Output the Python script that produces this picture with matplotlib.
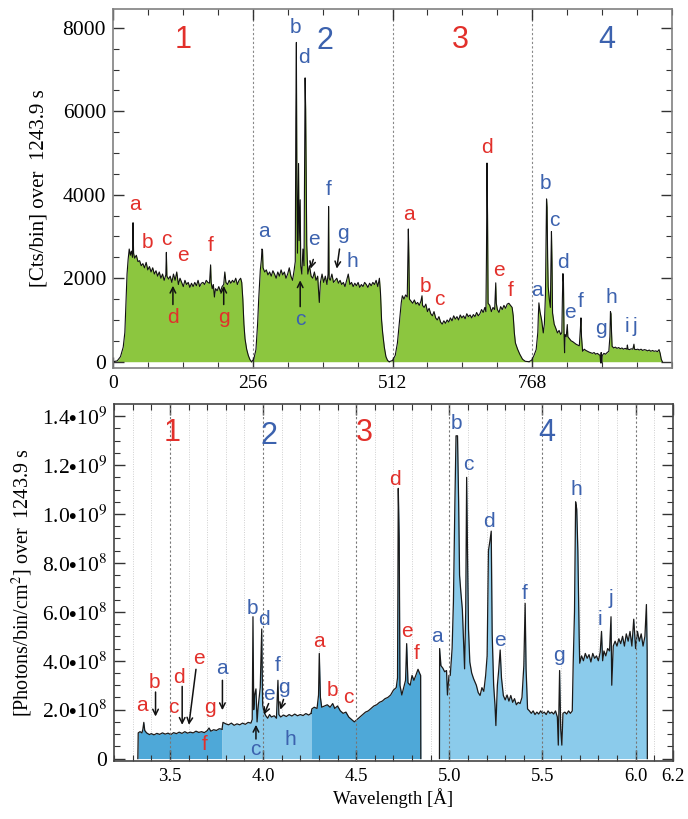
import numpy as np
import matplotlib
matplotlib.use("Agg")
import matplotlib.pyplot as plt

plt.rcParams['mathtext.fontset'] = 'stix'
SERIF = 'Liberation Serif'
SANS = 'Liberation Sans'
RED = '#e2302b'
BLUE = '#3c62ae'
GREEN = '#8cc63f'
DARKBLUE = '#4ea8d8'
LIGHTBLUE = '#8bcbeb'

# ---- top panel: raw counts per bin, four crystals ----
c1_bin = [0, 8, 14, 19, 22, 24, 26, 28, 30, 32, 34, 36, 37, 38, 40, 43, 46, 49, 52, 55, 58, 61, 64, 67, 70, 73,
          76, 79, 82, 85, 88, 91, 94, 97, 98, 99, 102, 105, 108, 111, 114, 117, 120, 123, 126, 129, 132, 135,
          138, 141, 144, 147, 150, 153, 156, 159, 162, 165, 168, 171, 174, 177, 179, 180, 182, 184, 186, 188,
          191, 194, 197, 200, 203, 205, 207, 210, 213, 216, 219, 222, 225, 228, 231, 234, 236, 238, 240, 242,
          245, 248, 251, 254]
c1_cts = [0, 20, 120, 350, 700, 1400, 2100, 2450, 2700, 2550, 2650, 2500, 3330, 2600, 2480, 2550, 2400, 2420,
          2300, 2350, 2250, 2380, 2200, 2280, 2150, 2250, 2100, 2180, 2050, 2150, 2000, 2100, 1950, 2080, 2620,
          2050, 1980, 2050, 1900, 2100, 1950, 2150, 1850, 2000, 1900, 1800, 1950, 1850, 1900, 1780, 1880, 1800,
          1900, 1820, 1950, 1800, 1880, 1900, 1850, 1950, 1900, 1880, 2320, 1900, 1750, 1850, 1550, 1750, 1700,
          1800, 1680, 1800, 1850, 2150, 1900, 1850, 1950, 1880, 1950, 1900, 2000, 1850, 1950, 2000, 1900, 1500,
          900, 550, 300, 150, 50, 0]

c2_bin = [254, 258, 262, 265, 267, 270, 272, 273, 274, 275, 278, 281, 284, 287, 290, 293, 296, 299, 302, 305,
          308, 311, 314, 317, 320, 323, 326, 329, 332, 334, 335, 336, 337, 338, 340, 341, 343, 344, 346, 348,
          350, 352, 353, 354, 355, 357, 360, 363, 366, 369, 372, 375, 378, 380, 383, 386, 389, 392, 394, 395,
          396, 398, 401, 404, 407, 410, 413, 416, 419, 422, 425, 428, 431, 434, 437, 440, 443, 446, 449, 452,
          455, 458, 461, 464, 467, 470, 473, 476, 479, 482, 485, 488, 490, 492, 494, 497, 500, 503, 506]
c2_cts = [0, 60, 290, 900, 1490, 2200, 2450, 2700, 2680, 2250, 2150, 2200, 2080, 2150, 2050, 2180, 2100, 2000,
          2150, 2050, 2200, 2080, 2150, 2000, 2100, 2250, 2050, 1950, 2200, 2400, 5800, 7650, 4200, 2600, 4750,
          2900, 3880, 2300, 2100, 2700, 2300, 6800, 6050, 4500, 2800, 2100, 2300, 2050, 2000, 2150, 1950, 2050,
          1420, 1900, 2100, 1900, 2050, 1850, 2100, 3720, 2000, 1950, 2100, 1900, 1950, 2000, 1880, 1950, 1850,
          1900, 1800, 1950, 2100, 1850, 1900, 1800, 1880, 1820, 1900, 1780, 1850, 1800, 1900, 1850, 1780, 1880,
          1820, 1900, 1850, 1950, 1800, 2000, 1650, 1000, 690, 350, 120, 30, 0]

c3_bin = [506, 512, 517, 521, 525, 528, 530, 533, 536, 539, 541, 542, 543, 546, 549, 552, 555, 558, 561, 564,
          566, 567, 570, 573, 576, 579, 582, 585, 588, 591, 594, 597, 600, 603, 606, 609, 612, 615, 618, 621,
          624, 627, 630, 633, 636, 639, 642, 645, 648, 651, 654, 657, 660, 663, 666, 669, 672, 675, 678, 681,
          683, 684, 685, 686, 687, 690, 693, 696, 699, 701, 702, 704, 707, 710, 713, 716, 719, 722, 725, 728,
          731, 733, 735, 737, 741, 745, 750, 755, 762]
c3_cts = [0, 30, 150, 450, 1000, 1410, 1580, 1500, 1600, 1550, 3180, 2500, 1500, 1450, 1400, 1480, 1380, 1420,
          1350, 1450, 1580, 1350, 1300, 1380, 1200, 1280, 1150, 1100, 1200, 1050, 1000, 1080, 950, 900, 980,
          920, 1000, 950, 1050, 980, 1100, 1020, 1080, 1000, 1120, 1050, 1100, 1030, 1150, 1080, 1120, 1050,
          1130, 1080, 1180, 1100, 1150, 1250, 1180, 1300, 1200, 2500, 4760, 3500, 1400, 1350, 1200, 1300, 1250,
          1890, 1400, 1250, 1180, 1320, 1250, 1350, 1280, 1380, 1400, 1350, 1300, 1100, 700, 450, 300, 180, 60,
          10, 0]

c4_bin = [762, 767, 771, 775, 778, 779, 780, 782, 785, 788, 790, 792, 793, 794, 795, 796, 797, 799, 801, 802,
          803, 804, 805, 808, 811, 814, 817, 820, 822, 823, 824, 825, 826, 827, 828, 830, 832, 833, 836, 839,
          842, 845, 848, 851, 854, 856, 857, 858, 860, 863, 866, 869, 872, 875, 878, 881, 884, 887, 890, 892,
          893, 894, 895, 896, 899, 902, 905, 908, 910, 911, 912, 913, 914, 917, 920, 923, 926, 929, 932, 935,
          938, 941, 942, 943, 946, 949, 952, 954, 955, 958, 961, 964, 967, 970, 973, 976, 979, 982, 985, 988,
          991, 994, 997, 1000, 1002, 1004, 1006]
c4_cts = [0, 40, 150, 290, 700, 1100, 1410, 1200, 1000, 690, 900, 1600, 2800, 3900, 3700, 2500, 1800, 1500,
          1300, 2300, 3120, 2400, 1170, 900, 800, 690, 750, 650, 700, 1500, 2110, 1900, 700, 215, 650, 600, 890,
          600, 550, 500, 480, 450, 420, 400, 380, 800, 1050, 600, 250, 300, 270, 250, 230, 215, 200, 220, 180,
          200, 170, 150, -30, 220, -30, 150, 200, 180, 220, 250, 600, 1200, 1150, 700, 370, 330, 350, 320, 340,
          310, 330, 300, 320, 300, 400, 300, 290, 310, 300, 420, 300, 290, 300, 280, 300, 270, 290, 280, 260,
          280, 250, 270, 250, 260, 240, 290, 200, 60, 0]

# ---- bottom panel: calibrated flux (units of 1e8 photons/bin/cm^2) ----
w1 = [3.328, 3.330, 3.34, 3.35, 3.355, 3.36, 3.365, 3.375, 3.39, 3.40, 3.415, 3.43, 3.445, 3.46, 3.475, 3.49,
      3.505, 3.52, 3.535, 3.55, 3.565, 3.58, 3.595, 3.61, 3.625, 3.64, 3.655, 3.67, 3.685, 3.70, 3.71, 3.72,
      3.735, 3.75, 3.765, 3.78]
f1 = [0, 1.05, 1.1, 1.05, 1.2, 1.48, 1.15, 1.05, 0.98, 1.02, 0.97, 1.03, 0.99, 1.05, 1.0, 1.04, 0.98, 1.06,
      1.02, 1.08, 1.03, 1.1, 1.04, 1.08, 1.05, 1.12, 1.07, 1.1, 1.06, 1.14, 1.25, 1.12, 1.18, 1.15, 1.22, 1.2]

w2 = [3.78, 3.785, 3.80, 3.815, 3.83, 3.845, 3.86, 3.875, 3.89, 3.905, 3.92, 3.935, 3.942, 3.946, 3.950,
      3.955, 3.962, 3.968, 3.975, 3.985, 3.993, 3.998, 4.005, 4.015, 4.025, 4.035, 4.045, 4.06, 4.072, 4.08,
      4.085, 4.095, 4.11, 4.125, 4.14, 4.155, 4.17, 4.185, 4.20, 4.215, 4.23, 4.245, 4.258]
f2 = [1.2, 1.48, 1.42, 1.38, 1.45, 1.36, 1.42, 1.38, 1.45, 1.40, 1.48, 1.45, 1.6, 5.8, 2.0, 2.6, 2.85, 1.5,
      2.2, 2.9, 5.3, 2.2, 1.9, 1.75, 1.65, 1.8, 1.7, 1.75, 1.65, 3.2, 1.8, 1.7, 1.78, 1.72, 1.8, 1.74, 1.82,
      1.75, 1.8, 1.76, 1.84, 1.78, 1.85]

w3 = [4.258, 4.262, 4.275, 4.29, 4.298, 4.302, 4.308, 4.315, 4.33, 4.345, 4.36, 4.374, 4.385, 4.40, 4.415,
      4.43, 4.445, 4.46, 4.475, 4.49, 4.505, 4.52, 4.535, 4.55, 4.565, 4.58, 4.595, 4.61, 4.625, 4.64, 4.655,
      4.67, 4.685, 4.70, 4.715, 4.722, 4.726, 4.731, 4.735, 4.745, 4.755, 4.765, 4.771, 4.778, 4.79, 4.80,
      4.81, 4.82, 4.832, 4.84, 4.846, 4.847]
f3 = [1.85, 2.03, 2.1, 2.05, 2.6, 4.3, 2.5, 2.1, 2.15, 2.2, 2.1, 2.25, 2.05, 2.15, 1.95, 1.85, 1.9, 1.7, 1.6,
      1.5, 1.6, 1.7, 1.8, 1.9, 1.95, 2.05, 2.15, 2.2, 2.3, 2.35, 2.45, 2.5, 2.6, 2.8, 2.9, 3.3, 11.05, 9.0,
      3.0, 2.6, 2.9, 3.2, 4.7, 3.1, 3.0, 3.4, 3.2, 3.4, 3.65, 3.5, 3.4, 0]

w4 = [4.947, 4.948, 4.955, 4.965, 4.975, 4.985, 4.99, 4.998, 5.005, 5.015, 5.022, 5.03, 5.036, 5.044, 5.05,
      5.055, 5.062, 5.07, 5.078, 5.082, 5.088, 5.093, 5.098, 5.103, 5.11, 5.12, 5.13, 5.145, 5.155, 5.165,
      5.175, 5.185, 5.195, 5.203, 5.21, 5.218, 5.225, 5.23, 5.238, 5.245, 5.25, 5.258, 5.265, 5.273, 5.28,
      5.29, 5.30, 5.31, 5.32, 5.33, 5.34, 5.35, 5.36, 5.37, 5.38, 5.39, 5.40, 5.407, 5.412, 5.42, 5.43, 5.44,
      5.45, 5.46, 5.47, 5.48, 5.49, 5.50, 5.51, 5.52, 5.53, 5.54, 5.55, 5.56, 5.57, 5.58, 5.585, 5.592,
      5.598, 5.604, 5.61, 5.62, 5.63, 5.64, 5.65, 5.66, 5.665, 5.672, 5.678, 5.684, 5.69, 5.697, 5.70, 5.71,
      5.72, 5.73, 5.74, 5.75, 5.76, 5.77, 5.78, 5.79, 5.80, 5.81, 5.817, 5.823, 5.83, 5.84, 5.85, 5.86,
      5.868, 5.872, 5.88, 5.89, 5.90, 5.91, 5.92, 5.93, 5.94, 5.95, 5.96, 5.97, 5.98, 5.99, 6.00, 6.01, 6.02,
      6.03, 6.04, 6.05, 6.058, 6.062, 6.063]
f4 = [0, 4.5, 3.8, 3.7, 3.55, 3.6, 2.6, 3.4, 3.4, 4.5, 6.4, 10.5, 13.2, 13.2, 10.5, 7.5, 6.8, 6.1, 4.5, 3.67,
      6.0, 11.5, 8.2, 5.3, 3.95, 3.5, 3.27, 3.0, 2.7, 2.58, 2.9, 2.75, 3.4, 4.2, 8.5, 8.9, 9.3, 5.1, 3.0,
      2.2, 1.35, 3.0, 3.6, 4.44, 3.3, 2.58, 2.4, 2.6, 2.35, 2.58, 2.3, 2.45, 2.2, 2.3, 2.25, 2.5, 3.8, 6.35,
      3.67, 2.03, 1.95, 1.85, 1.95, 1.8, 1.9, 1.82, 1.95, 1.85, 1.9, 1.8, 1.95, 1.85, 1.9, 1.82, 1.95, 1.7,
      0.55, 3.6, 1.2, 0.55, 1.85, 1.9, 1.82, 1.95, 1.85, 1.95, 3.9, 6.0, 10.5, 10.2, 8.5, 5.0, 3.9, 4.2, 4.0,
      4.3, 4.1, 4.25, 3.95, 4.3, 4.1, 4.2, 4.0, 4.35, 5.2, 4.0, 4.4, 4.2, 4.5, 4.4, 5.8, 3.0, 4.6, 4.8, 4.6,
      4.9, 4.7, 5.0, 4.6, 5.1, 4.8, 5.2, 4.6, 5.7, 4.5, 5.2, 4.8, 5.1, 4.6, 5.0, 6.3, 4.4, 0]

# line labels: (letter, x, y)
top_labels = {
    RED: [('a', 40, 3760), ('b', 64, 2850), ('c', 97, 2920), ('e', 128, 2540), ('f', 179, 2780),
          ('d', 110, 1050), ('g', 203, 1050),
          ('a', 543, 3520), ('b', 572, 1800), ('c', 598, 1490), ('d', 684, 5130), ('e', 707, 2180),
          ('f', 729, 1700)],
    BLUE: [('a', 276, 3110), ('b', 334, 8000), ('d', 349, 7280), ('e', 369, 2920), ('c', 344, 1000),
           ('f', 395, 4120), ('g', 422, 3070), ('h', 439, 2400),
           ('a', 777, 1700), ('b', 792, 4260), ('c', 808, 3380), ('d', 824, 2370), ('e', 837, 1170),
           ('f', 857, 1440), ('g', 894, 790), ('h', 912, 1530), ('i', 941, 840), ('j', 956, 840)],
}
top_arrows = [((110, 1370), (110, 1820)), ((203, 1370), (203, 1820)), ((343, 1320), (343, 1950)),
              ((367, 2450), (362, 2230)), ((415, 2700), (410, 2230))]
top_numbers = [('1', 128, 7710, RED), ('2', 389, 7680, BLUE), ('3', 636, 7710, RED), ('4', 905, 7710, BLUE)]

bot_labels = {
    RED: [('a', 3.349, 2.18), ('b', 3.419, 3.13), ('c', 3.518, 2.1), ('d', 3.549, 3.33), ('e', 3.656, 4.09),
          ('g', 3.716, 2.1), ('f', 3.687, 0.59),
          ('a', 4.299, 4.77), ('b', 4.374, 2.78), ('c', 4.46, 2.5), ('d', 4.707, 11.43), ('e', 4.773, 5.19),
          ('f', 4.827, 4.29)],
    BLUE: [('a', 3.778, 3.67), ('b', 3.943, 6.14), ('d', 4.006, 5.67), ('c', 3.958, 0.38), ('e', 4.033, 2.6),
           ('f', 4.078, 3.81), ('g', 4.114, 2.92), ('h', 4.145, 0.8),
           ('a', 4.935, 4.98), ('b', 5.039, 13.69), ('c', 5.102, 12.04), ('d', 5.21, 9.7), ('e', 5.273, 4.84),
           ('f', 5.404, 6.76), ('g', 5.587, 4.22), ('h', 5.682, 11.0), ('i', 5.811, 5.67), ('j', 5.865, 6.56)],
}
bot_arrows = [((3.423, 2.72), (3.423, 1.72)), ((3.566, 2.95), (3.566, 1.38)), ((3.640, 3.65), (3.602, 1.38)),
              ((3.782, 3.2), (3.782, 1.98)), ((3.962, 0.8), (3.962, 1.38)), ((4.03, 2.25), (4.005, 1.8)),
              ((4.11, 2.42), (4.093, 2.0))]
bot_numbers = [('1', 3.511, 13.3, RED), ('2', 4.033, 13.2, BLUE), ('3', 4.545, 13.3, RED),
               ('4', 5.524, 13.3, BLUE)]

fig = plt.figure(figsize=(6.88, 8.19), dpi=100)
ax1 = fig.add_axes([0.164, 0.5507, 0.813, 0.4383])
ax2 = fig.add_axes([0.1657, 0.0708, 0.8123, 0.4359])

# top panel
for b in [256, 512, 768]:
    ax1.axvline(b, color='#888888', ls=(0, (2, 2)), lw=0.8, zorder=0)
for xb, yc in [(c1_bin, c1_cts), (c2_bin, c2_cts), (c3_bin, c3_cts), (c4_bin, c4_cts)]:
    ax1.fill_between(xb, 0, yc, color=GREEN, lw=0, zorder=1)
    ax1.plot(xb, yc, color='#111111', lw=0.8, zorder=2)
ax1.set_xlim(0, 1024)
ax1.set_ylim(-150, 8450)
ax1.set_xticks([0, 256, 512, 768])
ax1.set_xticks(np.arange(0, 1025, 64), minor=True)
ax1.set_yticks([0, 2000, 4000, 6000, 8000])
ax1.set_yticks(np.arange(0, 8001, 500), minor=True)
ax1.set_ylabel('[Cts/bin] over  1243.9 s', fontsize=15, family=SERIF)
ax1.yaxis.set_label_coords(-0.115, 0.5)

for col, items in top_labels.items():
    for t, x, y in items:
        ax1.text(x, y, t, color=col, fontsize=15, family=SANS, ha='center', va='center', zorder=5)
for (x0, y0), (x1, y1) in top_arrows:
    ax1.annotate('', xy=(x1, y1), xytext=(x0, y0),
                 arrowprops=dict(arrowstyle='->', lw=1.1, color='#111111', shrinkA=0, shrinkB=0))
for t, x, y, col in top_numbers:
    ax1.text(x, y, t, color=col, fontsize=22, family=SANS, ha='center', va='center')

# bottom panel
for w in np.arange(3.3, 6.15, 0.1):
    if abs(w * 2 - round(w * 2)) > 1e-6:
        ax2.axvline(w, color='#cfcfcf', ls=(0, (1, 1.5)), lw=0.7, zorder=0)
for w in [3.5, 4.0, 4.5, 5.0, 5.5, 6.0]:
    ax2.axvline(w, color='#777777', ls=(0, (2, 2)), lw=0.8, zorder=3)
for wl, fl, col in [(w1, f1, DARKBLUE), (w2, f2, LIGHTBLUE), (w3, f3, DARKBLUE), (w4, f4, LIGHTBLUE)]:
    fl = np.array(fl) * 1e8
    ax2.fill_between(wl, 0, fl, color=col, lw=0, zorder=1)
    ax2.plot(wl, fl, color='#1a1a1a', lw=0.9, zorder=2)
ax2.set_xlim(3.2, 6.2)
ax2.set_ylim(-1e7, 1.45e9)
ax2.set_xticks([3.5, 4.0, 4.5, 5.0, 5.5, 6.0, 6.2])
ax2.set_xticklabels(['3.5', '4.0', '4.5', '5.0', '5.5', '6.0', '6.2'])
ax2.set_xticks(np.arange(3.2, 6.21, 0.1), minor=True)
yt = np.arange(0, 1.41e9, 2e8)
ax2.set_yticks(yt)
ax2.set_yticklabels(['0', r'2.0$\bullet$10$^8$', r'4.0$\bullet$10$^8$', r'6.0$\bullet$10$^8$',
                     r'8.0$\bullet$10$^8$', r'1.0$\bullet$10$^9$', r'1.2$\bullet$10$^9$', r'1.4$\bullet$10$^9$'])
ax2.set_yticks(np.arange(0, 1.45e9, 5e7), minor=True)
ax2.set_ylabel(r'[Photons/bin/cm$^2$] over  1243.9 s', fontsize=14.5, family=SERIF)
ax2.yaxis.set_label_coords(-0.142, 0.5)
ax2.set_xlabel('Wavelength [Å]', fontsize=13.5, family=SERIF, labelpad=2)

for col, items in bot_labels.items():
    for t, x, y in items:
        ax2.text(x, y * 1e8, t, color=col, fontsize=15, family=SANS, ha='center', va='center', zorder=5)
for (x0, y0), (x1, y1) in bot_arrows:
    ax2.annotate('', xy=(x1, y1 * 1e8), xytext=(x0, y0 * 1e8),
                 arrowprops=dict(arrowstyle='->', lw=1.1, color='#111111', shrinkA=0, shrinkB=0), zorder=6)
for t, x, y, col in bot_numbers:
    ax2.text(x, y * 1e8, t, color=col, fontsize=22, family=SANS, ha='center', va='center', zorder=5)

for ax, sc, xs, ys in [(ax1, '#808080', 14, 15.5), (ax2, '#444444', 13.5, 15.5)]:
    ax.tick_params(which='both', direction='in', top=True, right=True, colors='#333333')
    ax.tick_params(which='major', length=8, width=1.0, pad=5)
    ax.tick_params(which='minor', length=4, width=0.8)
    ax.tick_params(axis='x', labelsize=xs)
    ax.tick_params(axis='y', labelsize=ys)
    for s in ax.spines.values():
        s.set_color(sc)
        s.set_linewidth(1.2)
    for lab in ax.get_xticklabels() + ax.get_yticklabels():
        lab.set_family(SERIF)
        lab.set_color('black')

fig.savefig('out.png', dpi=100)
